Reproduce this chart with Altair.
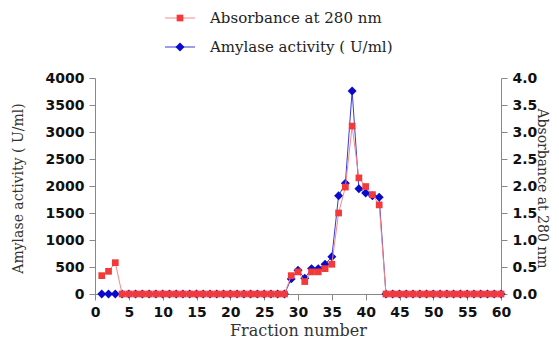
import altair as alt
import pandas as pd

fraction = list(range(1, 61))

amylase = [0, 0, 0] + [0] * 25 + [280, 440, 290, 470, 470, 550, 690, 1820, 2050, 3760,
                                  1950, 1870, 1820, 1790] + [0] * 18
absorbance = [0.34, 0.42, 0.58] + [0.0] * 25 + [0.34, 0.41, 0.23, 0.41, 0.41, 0.47, 0.55,
                                             1.50, 1.98, 3.11, 2.15, 1.99, 1.84, 1.65] + [0.0] * 18

legend_labels = ["Absorbance at 280 nm", "Amylase activity ( U/ml)"]

RED = "#f23a3a"
RED_LINE = "#f28a8a"
BLUE = "#0a0acc"
BLUE_LINE = "#3a3ad8"
SERIF = "DejaVu Serif"
SANS = "DejaVu Sans"
TXT = "#333333"

df = pd.DataFrame({"fraction": fraction, "amylase": amylase, "absorbance": absorbance})

W, H = 406, 216

x_enc = alt.X(
    "fraction:Q",
    scale=alt.Scale(domain=[0, 60], nice=False),
    axis=alt.Axis(
        values=list(range(0, 61, 5)), format="d", labelFlush=False,
        title="Fraction number", titleX=W / 2, titleY=36, titleFontSize=16,
        titleBaseline="middle", titleAlign="center",
    ),
)

y_left = alt.Y(
    "amylase:Q",
    scale=alt.Scale(domain=[0, 4000], nice=False),
    axis=alt.Axis(
        orient="left", values=list(range(0, 4001, 500)), format="d",
        title="Amylase activity ( U/ml)", titleX=-77, titleY=H / 2 + 2, titleFontSize=14,
        titleAngle=270, titleBaseline="middle", titleAlign="center",
    ),
)

y_right = alt.Y(
    "absorbance:Q",
    scale=alt.Scale(domain=[0, 4], nice=False),
    axis=alt.Axis(
        orient="right", values=[i * 0.5 for i in range(9)], format=".1f",
        title="Absorbance at 280 nm", titleX=40, titleY=H / 2 + 2, titleFontSize=14,
        titleAngle=90, titleBaseline="middle", titleAlign="center",
    ),
)

base = alt.Chart(df).encode(x=x_enc)

blue_layer = alt.layer(
    base.mark_line(color=BLUE_LINE, strokeWidth=1).encode(y=y_left),
    base.mark_point(shape="diamond", filled=True, color=BLUE, size=80, opacity=1).encode(y=y_left),
)

red_layer = alt.layer(
    base.mark_line(color=RED_LINE, strokeWidth=1).encode(y=y_right),
    base.mark_point(shape="square", filled=True, color=RED, size=45, opacity=1).encode(y=y_right),
)

leg_df = pd.DataFrame({"label": legend_labels})


def legend_item(idx, color, line_color, shape, size, ypix):
    d = alt.Chart(leg_df.iloc[[idx]])
    rule = d.mark_rule(color=line_color, strokeWidth=1).encode(
        x=alt.value(70), x2=alt.value(100), y=alt.value(ypix))
    pt = d.mark_point(shape=shape, filled=True, color=color, size=size, opacity=1).encode(
        x=alt.value(85), y=alt.value(ypix))
    tx = d.mark_text(align="left", baseline="middle", font=SERIF, fontSize=15, color="#222222").encode(
        x=alt.value(115), y=alt.value(ypix), text="label:N")
    return rule + pt + tx


legend = legend_item(0, RED, RED_LINE, "square", 45, -60) + legend_item(1, BLUE, BLUE_LINE, "diamond", 80, -31)

chart = (
    alt.layer(blue_layer, red_layer, legend)
    .resolve_scale(y="independent")
    .properties(
        width=W, height=H,
        autosize=alt.AutoSizeParams(type="none"),
        padding={"left": 87, "top": 70, "right": 50, "bottom": 46},
    )
    .configure_view(stroke=None)
    .configure_axis(
        grid=False,
        domainColor="#888888", tickColor="#888888", tickSize=6,
        labelFont=SANS, labelFontWeight="bold", labelFontSize=14, labelColor="#111111",
        labelPadding=5,
        titleFont=SERIF, titleFontWeight="normal", titleColor=TXT,
    )
)

chart.save("out.html", embed_options={"renderer": "svg", "actions": False})
